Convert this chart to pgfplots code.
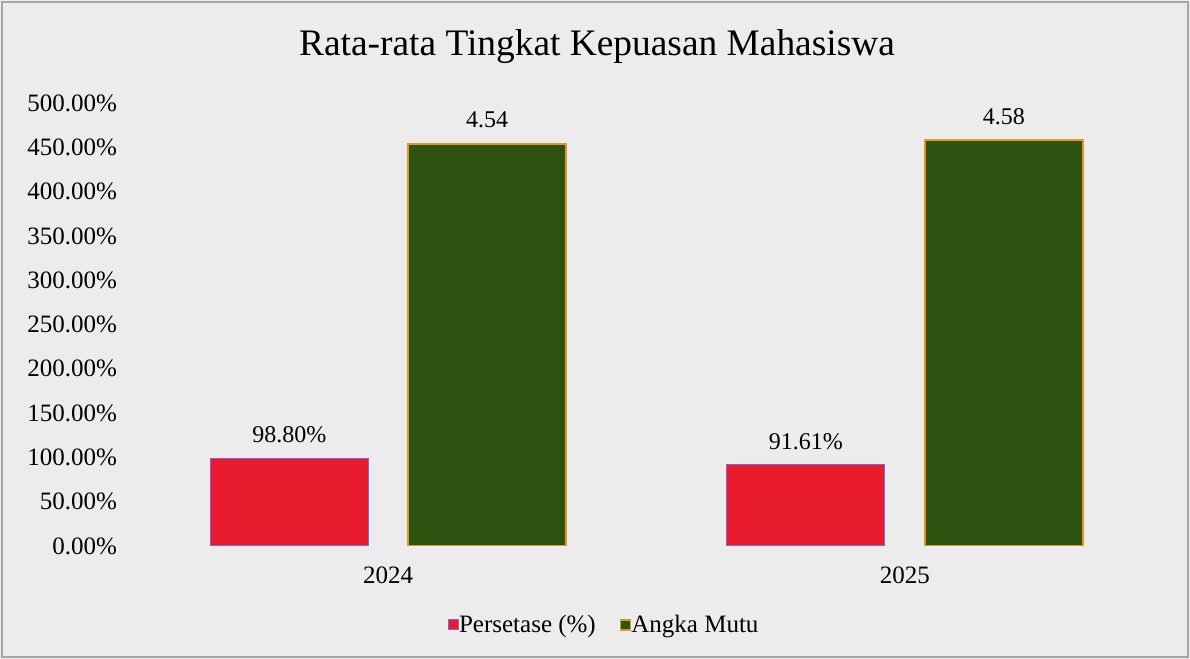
\documentclass[border=0pt]{standalone}
\usepackage{pgfplots}
\pgfplotsset{compat=1.18}
\usepackage{fontspec}
\setmainfont{Liberation Serif}
\definecolor{bg}{RGB}{236,236,236}
\definecolor{redbar}{RGB}{232,28,46}
\definecolor{redline}{RGB}{130,100,210}
\definecolor{greenbar}{RGB}{44,84,16}
\definecolor{greenline}{RGB}{225,150,40}
\begin{document}
\begin{tikzpicture}[x=1pt,y=1pt]
\fill[bg] (0,0) rectangle (595,329.5);
\draw[black!35,line width=0.8pt] (1,1) rectangle (594,328.5);
\node[font=\fontsize{18.7}{21}\selectfont] at (298.5,306) {Rata-rata Tingkat Kepuasan Mahasiswa};
\begin{axis}[
  at={(65pt,56.5pt)}, anchor=south west,
  scale only axis, width=516.5pt, height=221.5pt,
  ybar, bar width=79pt,
  xmin=-0.5, xmax=1.5, ymin=0, ymax=500,
  xtick={0,1}, xticklabels={2024,2025},
  ytick={0,50,...,500},
  yticklabel={\pgfmathprintnumber[fixed,fixed zerofill,precision=2]{\tick}\%},
  /pgf/number format/assume math mode=true,
  axis line style={draw=none}, major tick length=0pt,
  tick label style={font=\fontsize{12.5}{14}\selectfont},
  xticklabel style={yshift=-7pt},
  yticklabel style={xshift=-3pt},
  nodes near coords, point meta=explicit symbolic,
  every node near coord/.append style={font=\fontsize{12}{14}\selectfont, yshift=4pt},
  legend style={at={(0.46,-0.178)}, anchor=center, draw=none, fill=none,
    legend columns=2, font=\fontsize{12.5}{14}\selectfont,
    /tikz/every even column/.append style={column sep=10pt},
    /tikz/every odd column/.append style={column sep=-2pt}},
  legend image code/.code={\draw[#1] (3pt,-2.5pt) rectangle (8pt,2.5pt);},
  legend cell align=left,
]
\addplot[fill=redbar, draw=redline, line width=0.6pt, bar shift=-49.5pt]
  coordinates {(0,98.80) [98.80\%] (1,91.61) [91.61\%]};
\addplot[fill=greenbar, draw=greenline, line width=0.8pt, bar shift=49.5pt]
  coordinates {(0,454) [4.54] (1,458) [4.58]};
\legend{Persetase (\%), Angka Mutu}
\end{axis}
\end{tikzpicture}
\end{document}
